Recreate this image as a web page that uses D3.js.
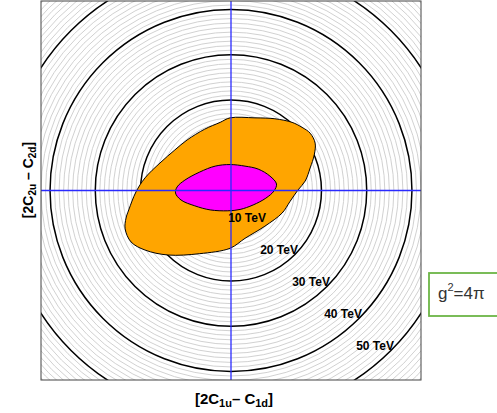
<!DOCTYPE html>
<html>
<head>
<meta charset="utf-8">
<script src="https://cdn.jsdelivr.net/npm/d3@7"></script>
<style>
  body { margin: 0; background: #fff; }
  svg { display: block; font-family: "Liberation Sans", Arial, sans-serif; }
</style>
</head>
<body>
<svg id="chart" width="497" height="413"></svg>
<script>
// Scale contours (TeV): labelled major circles and thin 1 TeV steps
const majorScales = [10, 20, 30, 40, 50];
const minorScales = d3.range(1, 60);
const majorLabels = ["10 TeV", "20 TeV", "30 TeV", "40 TeV", "50 TeV"];

// Allowed region (outer, orange) in plane coordinates
const outerRegion = [
  [-0.2, 16.1], [5.3, 16.1], [9.7, 15.9], [13.5, 15.1], [15.7, 14.0],
  [17.5, 12.7], [18.6, 10.5], [18.4, 7.9], [17.5, 5.0], [16.4, 2.1],
  [14.8, 0.1], [13.0, -2.5], [11.3, -5.0], [7.5, -7.9], [3.1, -10.6],
  [-0.2, -12.8], [-6.9, -14.0], [-13.9, -14.3], [-19.0, -13.2], [-22.1, -11.4],
  [-23.4, -8.5], [-23.2, -6.1], [-22.6, -4.3], [-21.0, -0.3], [-19.0, 2.8],
  [-15.7, 6.1], [-12.4, 9.0], [-9.7, 11.2], [-5.8, 13.6], [-2.4, 15.1]
];

// Allowed region (inner, magenta)
const innerRegion = [
  [-0.2, 5.75], [3.1, 5.4], [6.0, 4.75], [8.6, 3.2], [10.06, 1.44],
  [9.5, -0.1], [7.7, -1.7], [4.9, -3.2], [2.0, -4.2], [-0.7, -4.5],
  [-4.6, -4.3], [-8.0, -3.4], [-11.05, -2.1], [-12.27, -0.55], [-11.9, 0.8],
  [-10.2, 2.3], [-6.9, 4.1], [-3.5, 5.4]
];

const couplingLabel = { base: "g", sup: "2", rest: "=4π" };

const svg = d3.select("#chart");
const pLeft = 41, pRight = 421, pTop = 1, pBottom = 380;

const x = d3.scaleLinear().domain([-42, 42]).range([pLeft, pRight]);
const y = d3.scaleLinear().domain([-42, 42]).range([pBottom, pTop]);
const rpx = d => x(d) - x(0);

svg.append("defs").append("clipPath").attr("id", "plotClip")
  .append("rect").attr("x", pLeft).attr("y", pTop)
  .attr("width", pRight - pLeft).attr("height", pBottom - pTop);

const plot = svg.append("g").attr("clip-path", "url(#plotClip)");

plot.append("rect").attr("x", pLeft).attr("y", pTop)
  .attr("width", pRight - pLeft).attr("height", pBottom - pTop).attr("fill", "#fff");

plot.selectAll("circle.minor").data(minorScales.filter(d => d % 10 !== 0))
  .join("circle").attr("class", "minor")
  .attr("cx", x(0)).attr("cy", y(0)).attr("r", d => rpx(d))
  .attr("fill", "none").attr("stroke", "#cccccc").attr("stroke-width", 0.9);

plot.selectAll("circle.major").data(majorScales)
  .join("circle").attr("class", "major")
  .attr("cx", x(0)).attr("cy", y(0)).attr("r", d => rpx(d))
  .attr("fill", "none").attr("stroke", "#000").attr("stroke-width", 1.5);

const region = d3.line().x(d => x(d[0])).y(d => y(d[1])).curve(d3.curveCatmullRomClosed.alpha(0.5));

plot.append("path").attr("d", region(outerRegion))
  .attr("fill", "#ffa500").attr("stroke", "#000").attr("stroke-width", 1);
plot.append("path").attr("d", region(innerRegion))
  .attr("fill", "#ff00ff").attr("stroke", "#000").attr("stroke-width", 1);

// Axes through the origin
plot.append("line").attr("x1", x(0)).attr("x2", x(0)).attr("y1", pTop).attr("y2", pBottom)
  .attr("stroke", "#2a2aff").attr("stroke-width", 1.3);
plot.append("line").attr("x1", pLeft).attr("x2", pRight).attr("y1", y(0)).attr("y2", y(0))
  .attr("stroke", "#2a2aff").attr("stroke-width", 1.3);

// Contour labels along the lower-right diagonal
svg.selectAll("text.scale").data(majorScales)
  .join("text").attr("class", "scale")
  .attr("x", d => x(0) + rpx(d) / Math.SQRT2 + 3)
  .attr("y", d => y(0) + rpx(d) / Math.SQRT2)
  .attr("text-anchor", "end")
  .attr("font-size", 12).attr("font-weight", "bold").attr("fill", "#000")
  .text((d, i) => majorLabels[i]);

// Frame
svg.append("rect").attr("x", pLeft).attr("y", pTop)
  .attr("width", pRight - pLeft).attr("height", pBottom - pTop)
  .attr("fill", "none").attr("stroke", "#444").attr("stroke-width", 1);

// Axis titles
const xt = svg.append("text").attr("x", 234).attr("y", 404)
  .attr("text-anchor", "middle").attr("font-size", 15).attr("font-weight", "bold");
xt.append("tspan").text("[2C");
xt.append("tspan").attr("font-size", 11).attr("dy", 3).text("1u");
xt.append("tspan").attr("dy", -3).text("– C");
xt.append("tspan").attr("font-size", 11).attr("dy", 3).text("1d");
xt.append("tspan").attr("dy", -3).text("]");

const yt = svg.append("text").attr("transform", "translate(33,180) rotate(-90)")
  .attr("text-anchor", "middle").attr("font-size", 14).attr("font-weight", "bold");
yt.append("tspan").text("[2C");
yt.append("tspan").attr("font-size", 10).attr("dy", 3).text("2u");
yt.append("tspan").attr("dy", -3).text(" – C");
yt.append("tspan").attr("font-size", 10).attr("dy", 3).text("2d");
yt.append("tspan").attr("dy", -3).text("]");

// Coupling box
svg.append("rect").attr("x", 429).attr("y", 273).attr("width", 80).attr("height", 43)
  .attr("fill", "#fff").attr("stroke", "#6cb546").attr("stroke-width", 1.8);
const gt = svg.append("text").attr("x", 438).attr("y", 299)
  .attr("font-size", 17).attr("fill", "#333");
gt.append("tspan").text(couplingLabel.base);
gt.append("tspan").attr("font-size", 11).attr("dy", -8).text(couplingLabel.sup);
gt.append("tspan").attr("dy", 8).text(couplingLabel.rest);
</script>
</body>
</html>
